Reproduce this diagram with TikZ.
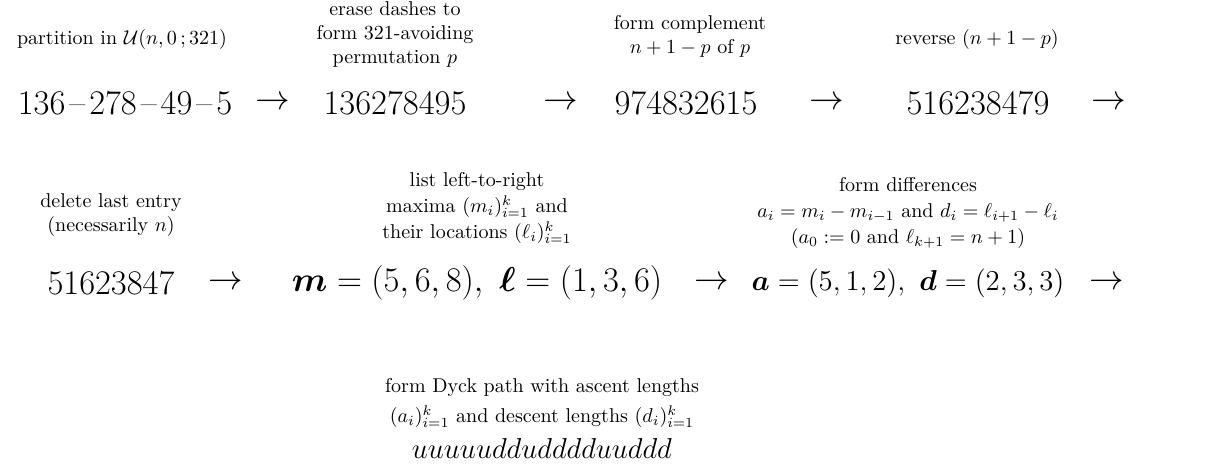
\documentclass[tikz,border=0pt]{standalone}
\usepackage{amsmath,amssymb,bm}
\begin{document}
\begin{tikzpicture}[x=0.5pt,y=-0.5pt,
  captext/.style={align=center,font=\normalsize,inner sep=0pt},
  bigtext/.style={font=\LARGE,inner sep=0pt},
  midtext/.style={font=\Large,inner sep=0pt},
  arrtext/.style={font=\LARGE,inner sep=0pt}]
\useasboundingbox (0,0) rectangle (1207,466);
% row 1
\node[captext] (c1) at (122,40) {partition in $\mathcal{U}(n,0\,;321)$};
\node[captext] (c2) at (395,35) {erase dashes to\\form 321-avoiding\\permutation $p$};
\node[captext] (c3) at (690,36) {form complement\\$n+1-p$ of $p$};
\node[captext] (c4) at (977,40) {reverse $(n+1-p)$};
\node[bigtext] (n1) at (125,103) {136\kern2pt--\kern2pt278\kern2pt--\kern2pt49\kern2pt--\kern2pt5};
\node[arrtext] (a1) at (273,103) {$\rightarrow$};
\node[bigtext] (n2) at (395,103) {136278495};
\node[arrtext] (a2) at (561,103) {$\rightarrow$};
\node[bigtext] (n3) at (686,103) {974832615};
\node[arrtext] (a3) at (827,103) {$\rightarrow$};
\node[bigtext] (n4) at (978,103) {516238479};
\node[arrtext] (a4) at (1109,103) {$\rightarrow$};
% row 2
\node[captext] (c5) at (111,215) {delete last entry\\(necessarily $n$)};
\node[captext] (c6) at (477,208) {list left-to-right\\[1pt]maxima $(m_i)_{i=1}^k$ and\\[1pt]their locations $(\ell_i)_{i=1}^k$};
\node[captext] (c7) at (908,213) {form differences\\[1pt]$a_i=m_i-m_{i-1}$ and $d_i=\ell_{i+1}-\ell_i$\\[1pt]$(a_0:=0$ and $\ell_{k+1}=n+1)$};
\node[bigtext] (n5) at (111,283) {51623847};
\node[arrtext] (a5) at (226,283) {$\rightarrow$};
\node[bigtext] (n6) at (477,283) {$\bm{m}=(5,6,8),\ \bm{\ell}=(1,3,6)$};
\node[arrtext] (a6) at (712,283) {$\rightarrow$};
\node[midtext] (n7) at (908,283) {$\bm{a}=(5,1,2),\ \bm{d}=(2,3,3)$};
\node[arrtext] (a7) at (1107,283) {$\rightarrow$};
% row 3
\node[captext] (c8) at (542,403) {form Dyck path with ascent lengths\\[3pt]$(a_i)_{i=1}^k$ and descent lengths $(d_i)_{i=1}^k$};
\node[midtext] (n8) at (542,448) {$uuuuuddudddduuddd$};
\end{tikzpicture}
\end{document}
